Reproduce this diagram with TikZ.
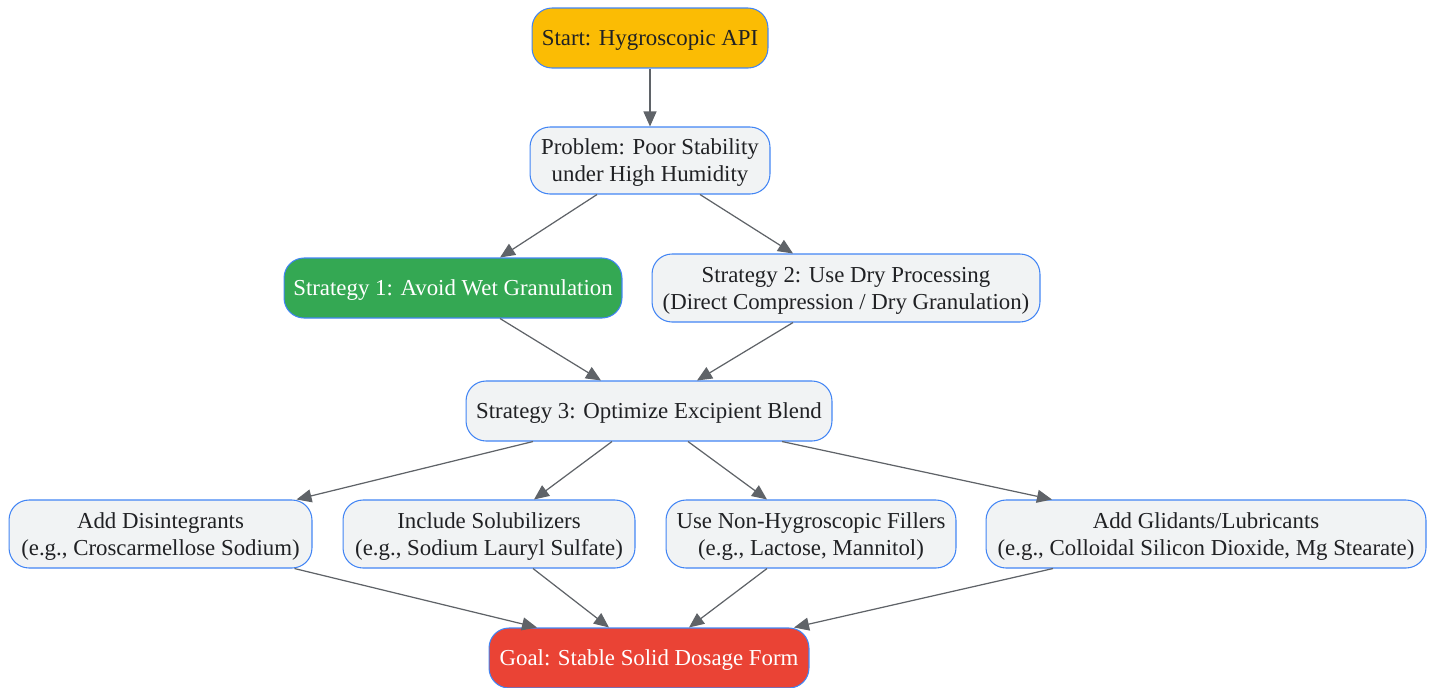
\documentclass[tikz,border=0pt]{standalone}
\usepackage{fontspec}
\setmainfont{Liberation Serif}
\usepackage{tikz}
\usetikzlibrary{
  arrows.meta,
  calc
}
\definecolor{boxline}{HTML}{4285F4}
\definecolor{boxfill}{HTML}{F1F3F4}
\definecolor{startfill}{HTML}{FBBC04}
\definecolor{okfill}{HTML}{34A853}
\definecolor{goalfill}{HTML}{EA4335}
\definecolor{edge}{HTML}{5F6368}
\definecolor{ink}{HTML}{202124}

\begin{document}
\begin{tikzpicture}[x=0.02cm,y=-0.02cm,
  every text node part/.style={align=center},
  box/.style={rectangle,rounded corners=0.4cm,draw=boxline,line width=0.6pt,fill=boxfill,
    text=ink,font=\fontsize{13}{15.4}\selectfont,inner sep=0pt,text depth=-1pt},
  flow/.style={draw=edge,line width=0.7pt,-{Triangle[length=0.3cm,width=0.26cm]}}]
  \useasboundingbox (0,0) rectangle (1436,687);

  \node[box,fill=startfill,minimum width=4.72cm,minimum height=1.2cm] (0) at (650,38) {Start: Hygroscopic API};
  \node[box,minimum width=4.8cm,minimum height=1.34cm] (1) at (650,160.5) {Problem: Poor Stability\\under High Humidity};
  \node[box,fill=okfill,text=white,minimum width=6.76cm,minimum height=1.2cm] (2) at (453,288) {Strategy 1: Avoid Wet Granulation};
  \node[box,minimum width=7.76cm,minimum height=1.36cm] (3) at (846,288) {Strategy 2: Use Dry Processing\\(Direct Compression / Dry Granulation)};
  \node[box,minimum width=7.32cm,minimum height=1.2cm] (4) at (649,411) {Strategy 3: Optimize Excipient Blend};

  \node[box,minimum width=6.06cm,minimum height=1.36cm] (5) at (160.5,534) {Add Disintegrants\\(e.g., Croscarmellose Sodium)};
  \node[box,minimum width=5.84cm,minimum height=1.36cm] (6) at (489,534) {Include Solubilizers\\(e.g., Sodium Lauryl Sulfate)};
  \node[box,minimum width=5.8cm,minimum height=1.36cm] (7) at (811,534) {Use Non-Hygroscopic Fillers\\(e.g., Lactose, Mannitol)};
  \node[box,minimum width=8.8cm,minimum height=1.36cm] (8) at (1206,534) {Add Glidants/Lubricants\\(e.g., Colloidal Silicon Dioxide, Mg Stearate)};

  \node[box,fill=goalfill,text=white,minimum width=6.4cm,minimum height=1.2cm] (9) at (649,658) {Goal: Stable Solid Dosage Form};

  \draw[flow] (0) -- (1);
  \draw[flow] ($(1.south)+(-53,0)$) -- ($(2.north)+(47,0)$);
  \draw[flow] ($(1.south)+(50,0)$) -- ($(3.north)+(-53,0)$);
  \draw[flow] ($(2.south)+(47,0)$) -- ($(4.north)+(-48,0)$);
  \draw[flow] ($(3.south)+(-53,0)$) -- ($(4.north)+(48,0)$);

  \draw[flow] ($(4.south)+(-116,0)$) -- ($(5.north)+(136,0)$);
  \draw[flow] ($(4.south)+(-37,0)$) -- ($(6.north)+(45,0)$);
  \draw[flow] ($(4.south)+(39,0)$) -- ($(7.north)+(-44,0)$);
  \draw[flow] ($(4.south)+(133,0)$) -- ($(8.north)+(-154,0)$);

  \draw[flow] ($(5.south)+(134,0)$) -- ($(9.north)+(-112,0)$);
  \draw[flow] ($(6.south)+(44,0)$) -- ($(9.north)+(-40,0)$);
  \draw[flow] ($(7.south)+(-44,0)$) -- ($(9.north)+(40,0)$);
  \draw[flow] ($(8.south)+(-153,0)$) -- ($(9.north)+(145,0)$);
\end{tikzpicture}
\end{document}
